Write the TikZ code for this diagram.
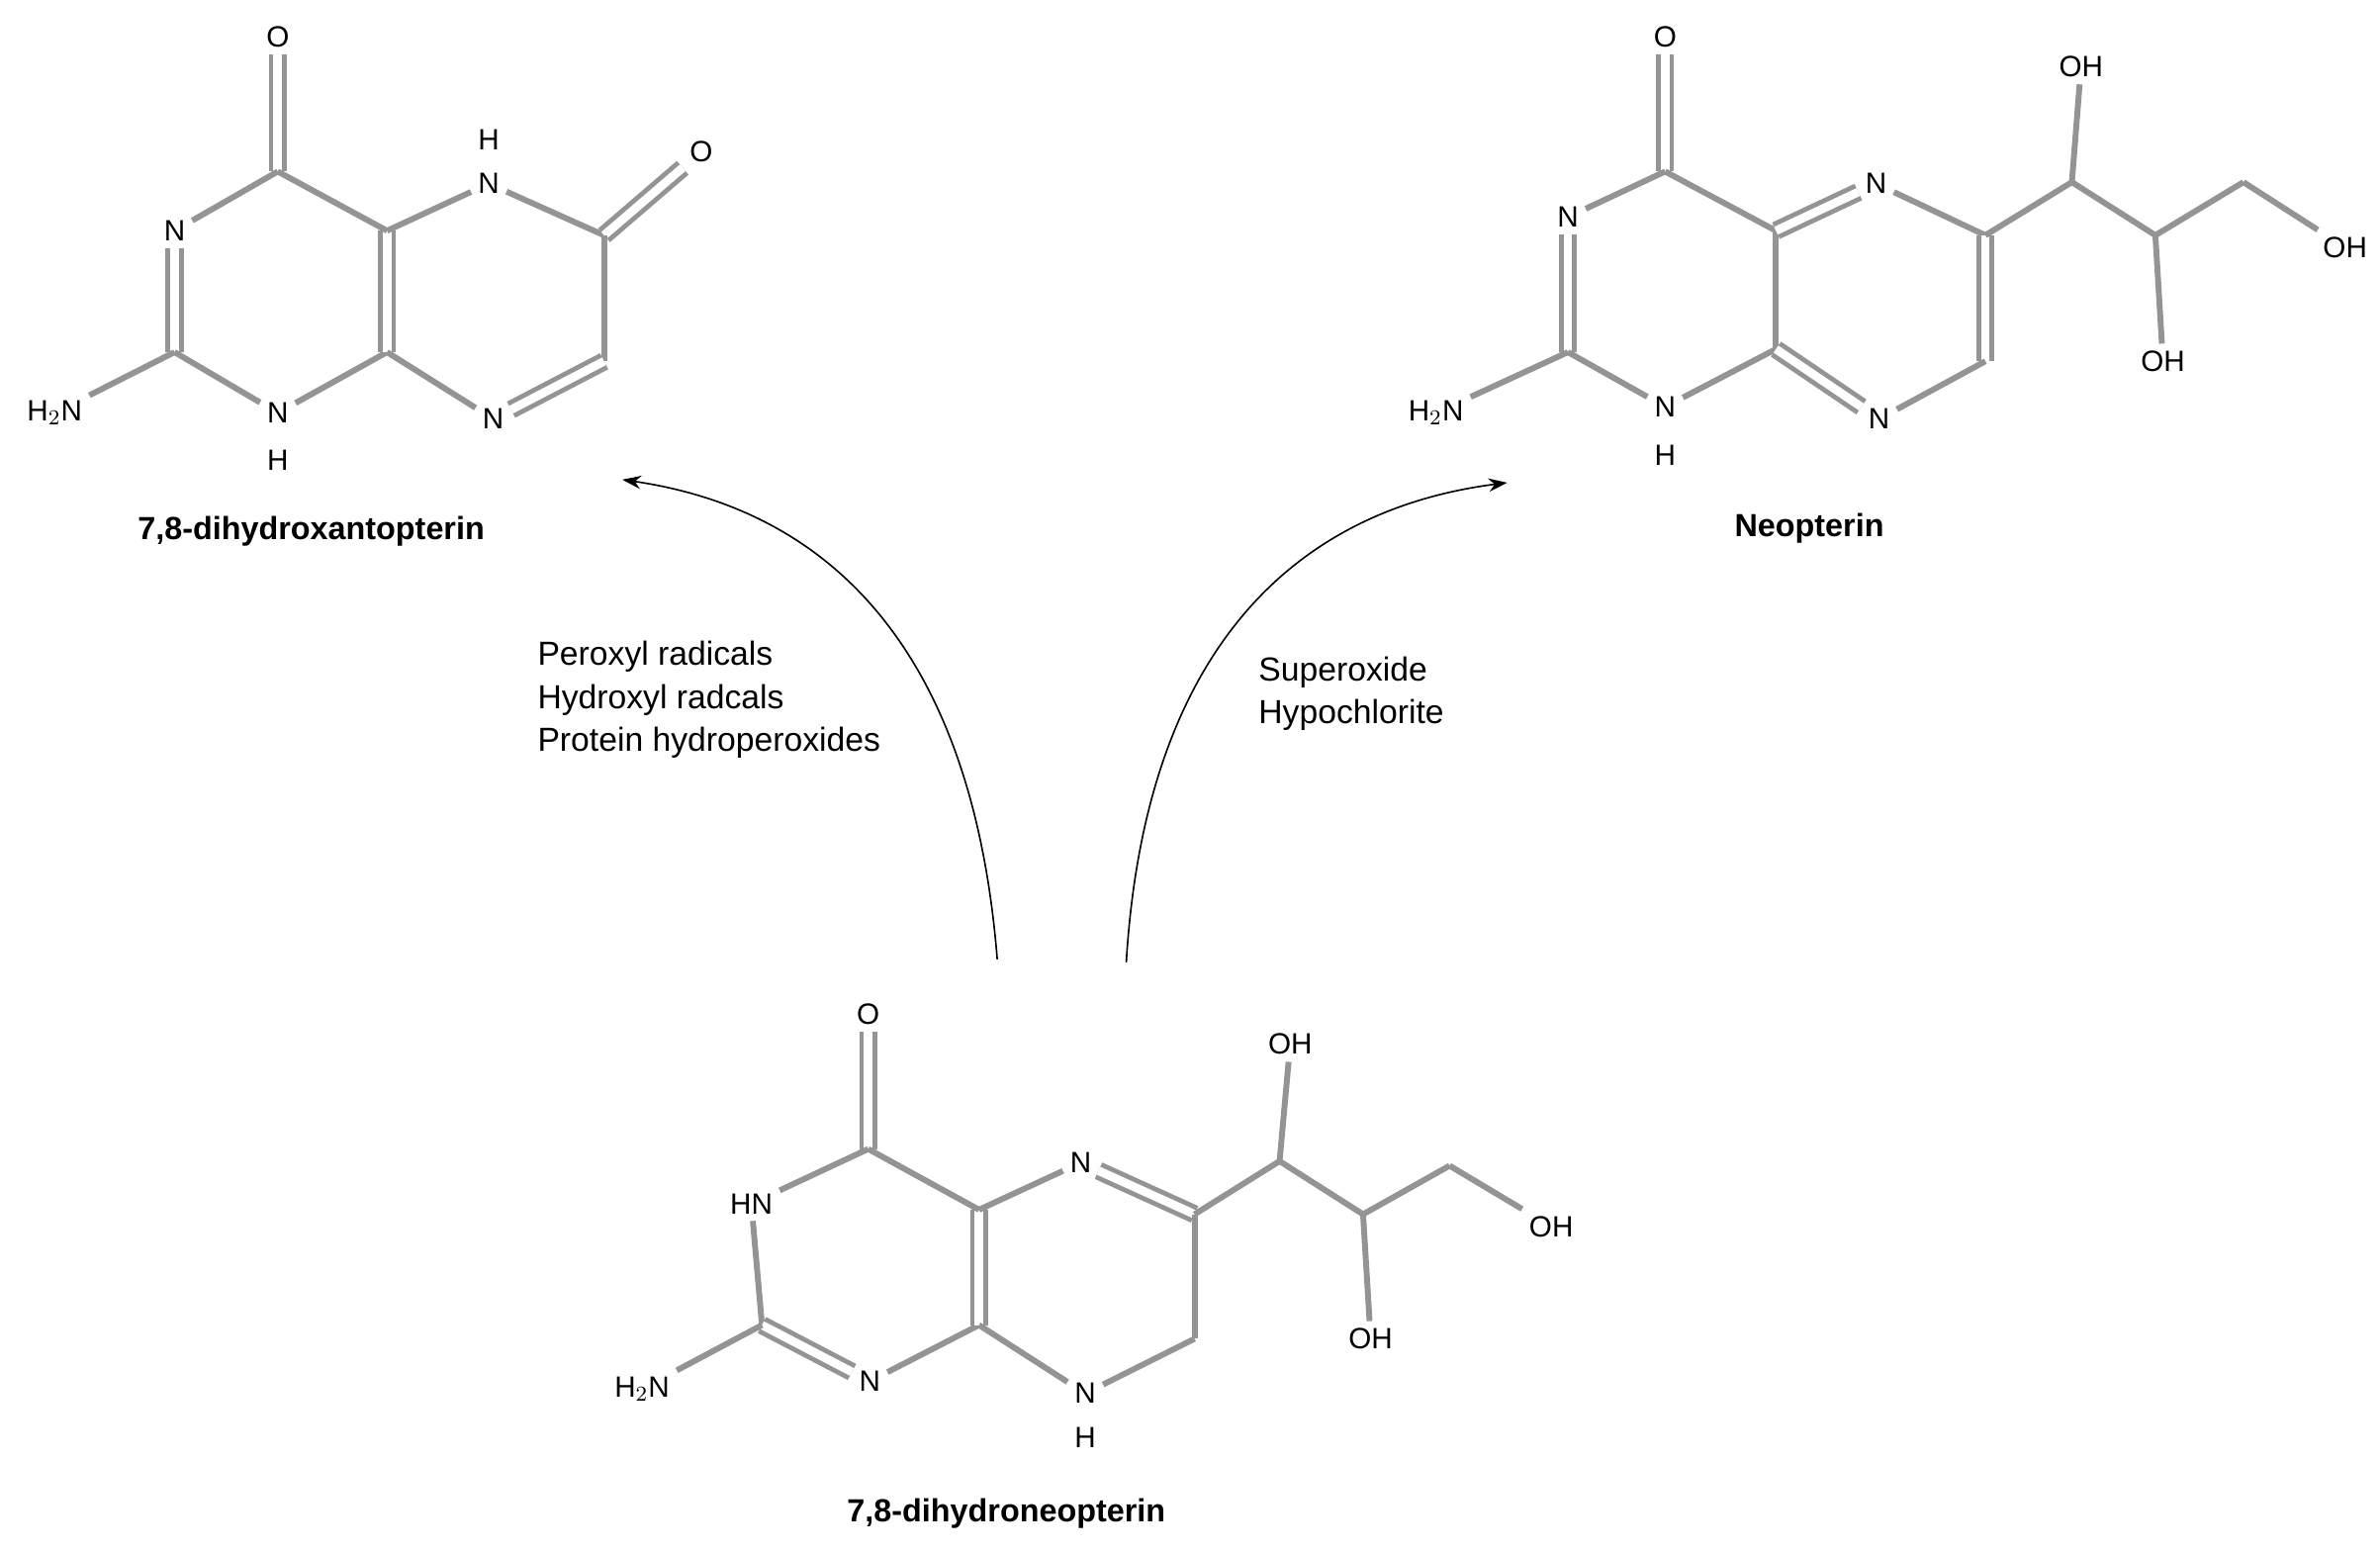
\documentclass[tikz,border=0pt]{standalone}
\usepackage{fontspec}
\setmainfont{Liberation Sans}
\usetikzlibrary{arrows.meta}
\begin{document}
\begin{tikzpicture}[x=0.02cm,y=-0.02cm,
  atom/.style={inner sep=2.5pt,font=\fontsize{11}{13}\selectfont},
  bd/.style={draw=black!42,line width=2.2pt},
  dbl/.style={draw=black!42,line width=1.8pt,double=white,double distance=3.2pt},
  molname/.style={font=\bfseries\fontsize{12}{14}\selectfont},
  rx/.style={align=left,font=\fontsize{12.5}{16}\selectfont},
  arr/.style={-{Stealth[length=7pt,width=5pt]},line width=0.6pt}]
\useasboundingbox (0,0) rectangle (1568,1022);
% ---------- molecule A ----------
\node[atom] (aO) at (183,24) {O};
\coordinate (aC4) at (183,113);
\node[atom] (aN3) at (115,152) {N};
\coordinate (aC2) at (115,232);
\node[atom] (aNH2) at (36,272) {H$_2$N};
\node[atom] (aN1) at (183,272) {N};
\node[atom] (aH1) at (183,303) {H};
\coordinate (aC8a) at (255,232);
\coordinate (aC4a) at (255,152);
\node[atom] (aN5) at (322,121) {N};
\node[atom] (aH5) at (322,92) {H};
\coordinate (aC6) at (398,155);
\node[atom] (aO6) at (462,100) {O};
\coordinate (aC7) at (398,238);
\node[atom] (aN8) at (325,276) {N};
\draw[dbl] (aO)--(aC4); \draw[bd] (aC4)--(aN3); \draw[dbl] (aN3)--(aC2);
\draw[bd] (aC2)--(aNH2); \draw[bd] (aC2)--(aN1); \draw[bd] (aN1)--(aC8a);
\draw[dbl] (aC8a)--(aC4a); \draw[bd] (aC4a)--(aC4); \draw[bd] (aC4a)--(aN5);
\draw[bd] (aN5)--(aC6); \draw[dbl] (aC6)--(aO6); \draw[bd] (aC6)--(aC7);
\draw[dbl] (aC7)--(aN8); \draw[bd] (aN8)--(aC8a);
\node[molname] (aname) at (205,350) {7,8-dihydroxantopterin};
% ---------- molecule B ----------
\node[atom] (bO) at (1097,24) {O};
\coordinate (bC4) at (1097,113);
\node[atom] (bN3) at (1033,143) {N};
\coordinate (bC2) at (1033,232);
\node[atom] (bNH2) at (946,272) {H$_2$N};
\node[atom] (bN1) at (1097,268) {N};
\node[atom] (bH1) at (1097,300) {H};
\coordinate (bC8a) at (1170,230);
\coordinate (bC4a) at (1170,152);
\node[atom] (bN5) at (1236,121) {N};
\coordinate (bC6) at (1308,155);
\coordinate (bC7) at (1308,238);
\node[atom] (bN8) at (1238,276) {N};
\coordinate (bC1) at (1365,120);
\node[atom] (bOH1) at (1371,44) {OH};
\coordinate (bC2p) at (1420,155);
\node[atom] (bOH2) at (1425,238) {OH};
\coordinate (bC3) at (1478,120);
\node[atom] (bOH3) at (1545,163) {OH};
\draw[dbl] (bO)--(bC4); \draw[bd] (bC4)--(bN3); \draw[dbl] (bN3)--(bC2);
\draw[bd] (bC2)--(bNH2); \draw[bd] (bC2)--(bN1); \draw[bd] (bN1)--(bC8a);
\draw[bd] (bC8a)--(bC4a); \draw[bd] (bC4a)--(bC4); \draw[dbl] (bC4a)--(bN5);
\draw[bd] (bN5)--(bC6); \draw[dbl] (bC6)--(bC7); \draw[bd] (bC7)--(bN8);
\draw[dbl] (bN8)--(bC8a);
\draw[bd] (bC6)--(bC1); \draw[bd] (bC1)--(bOH1); \draw[bd] (bC1)--(bC2p);
\draw[bd] (bC2p)--(bOH2); \draw[bd] (bC2p)--(bC3); \draw[bd] (bC3)--(bOH3);
\node[molname] (bname) at (1192,348) {Neopterin};
% ---------- molecule C ----------
\node[atom] (cO) at (572,668) {O};
\coordinate (cC4) at (572,757);
\node[atom] (cN3) at (495,793) {HN};
\coordinate (cC2) at (502,873);
\node[atom] (cNH2) at (423,915) {H$_2$N};
\node[atom] (cN1) at (573,910) {N};
\coordinate (cC8a) at (645,873);
\coordinate (cC4a) at (645,797);
\node[atom] (cN5) at (712,766) {N};
\coordinate (cC6) at (787,800);
\coordinate (cC7) at (787,882);
\node[atom] (cN8) at (715,918) {N};
\node[atom] (cH8) at (715,947) {H};
\coordinate (cC1) at (843,765);
\node[atom] (cOH1) at (850,688) {OH};
\coordinate (cC2p) at (898,800);
\node[atom] (cOH2) at (903,882) {OH};
\coordinate (cC3) at (955,768);
\node[atom] (cOH3) at (1022,808) {OH};
\draw[dbl] (cO)--(cC4); \draw[bd] (cC4)--(cN3); \draw[bd] (cN3)--(cC2);
\draw[dbl] (cC2)--(cN1); \draw[bd] (cC2)--(cNH2); \draw[bd] (cN1)--(cC8a);
\draw[dbl] (cC8a)--(cC4a); \draw[bd] (cC4a)--(cC4); \draw[bd] (cC4a)--(cN5);
\draw[dbl] (cN5)--(cC6); \draw[bd] (cC6)--(cC7); \draw[bd] (cC7)--(cN8);
\draw[bd] (cN8)--(cC8a);
\draw[bd] (cC6)--(cC1); \draw[bd] (cC1)--(cOH1); \draw[bd] (cC1)--(cC2p);
\draw[bd] (cC2p)--(cOH2); \draw[bd] (cC2p)--(cC3); \draw[bd] (cC3)--(cOH3);
\node[molname] (cname) at (663,997) {7,8-dihydroneopterin};
% ---------- arrows ----------
\coordinate (s1) at (657,632); \coordinate (e1) at (410,316);
\coordinate (s2) at (742,634); \coordinate (e2) at (993,318);
\draw[arr] (s1) .. controls (640,420) and (540,335) .. (e1);
\draw[arr] (s2) .. controls (755,420) and (860,335) .. (e2);
\node[rx,anchor=west] (t1) at (348,461) {Peroxyl radicals\\Hydroxyl radcals\\Protein hydroperoxides};
\node[rx,anchor=west] (t2) at (823,457) {Superoxide\\Hypochlorite};
\end{tikzpicture}
\end{document}
